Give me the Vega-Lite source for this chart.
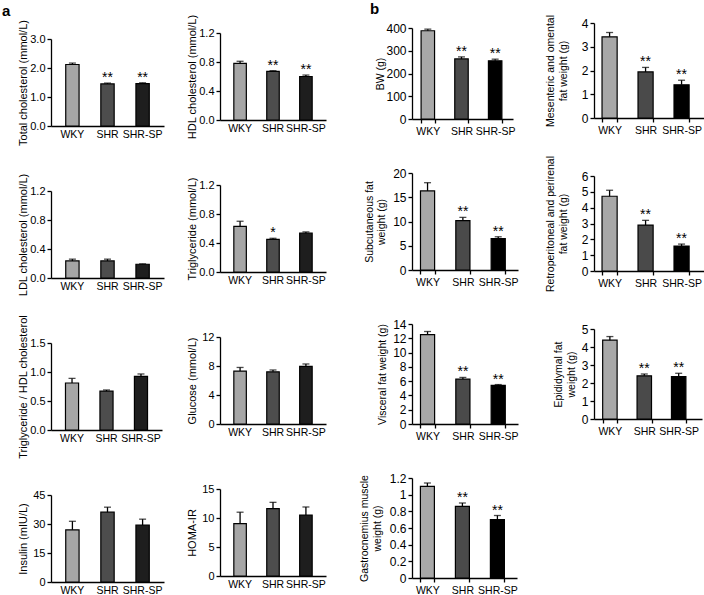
{
"$schema": "https://vega.github.io/schema/vega-lite/v6.json",
"padding": {"left": 2, "top": 2, "right": 0, "bottom": 0},
"data": {"values": [
{"p":"tc","g":"WKY","v":2.12,"hi":2.17,"s":""},{"p":"tc","g":"SHR","v":1.45,"hi":1.48,"s":"**"},{"p":"tc","g":"SHR-SP","v":1.46,"hi":1.49,"s":"**"},
{"p":"hdl","g":"WKY","v":0.78,"hi":0.81,"s":""},{"p":"hdl","g":"SHR","v":0.67,"hi":0.68,"s":"**"},{"p":"hdl","g":"SHR-SP","v":0.60,"hi":0.62,"s":"**"},
{"p":"ldl","g":"WKY","v":0.235,"hi":0.26,"s":""},{"p":"ldl","g":"SHR","v":0.235,"hi":0.26,"s":""},{"p":"ldl","g":"SHR-SP","v":0.19,"hi":0.195,"s":""},
{"p":"tg","g":"WKY","v":0.63,"hi":0.70,"s":""},{"p":"tg","g":"SHR","v":0.45,"hi":0.465,"s":"*"},{"p":"tg","g":"SHR-SP","v":0.535,"hi":0.553,"s":""},
{"p":"tgh","g":"WKY","v":0.81,"hi":0.89,"s":""},{"p":"tgh","g":"SHR","v":0.67,"hi":0.69,"s":""},{"p":"tgh","g":"SHR-SP","v":0.925,"hi":0.966,"s":""},
{"p":"glu","g":"WKY","v":7.3,"hi":7.8,"s":""},{"p":"glu","g":"SHR","v":7.2,"hi":7.45,"s":""},{"p":"glu","g":"SHR-SP","v":7.95,"hi":8.28,"s":""},
{"p":"ins","g":"WKY","v":27,"hi":31.4,"s":""},{"p":"ins","g":"SHR","v":36.1,"hi":38.7,"s":""},{"p":"ins","g":"SHR-SP","v":29.4,"hi":32.5,"s":""},
{"p":"homa","g":"WKY","v":9.04,"hi":11.0,"s":""},{"p":"homa","g":"SHR","v":11.6,"hi":12.7,"s":""},{"p":"homa","g":"SHR-SP","v":10.5,"hi":11.9,"s":""},
{"p":"bw","g":"WKY","v":388,"hi":395,"s":""},{"p":"bw","g":"SHR","v":264,"hi":273,"s":"**"},{"p":"bw","g":"SHR-SP","v":256,"hi":263,"s":"**"},
{"p":"mes","g":"WKY","v":3.42,"hi":3.6,"s":""},{"p":"mes","g":"SHR","v":1.94,"hi":2.13,"s":"**"},{"p":"mes","g":"SHR-SP","v":1.4,"hi":1.59,"s":"**"},
{"p":"sub","g":"WKY","v":16.3,"hi":18.0,"s":""},{"p":"sub","g":"SHR","v":10.2,"hi":10.85,"s":"**"},{"p":"sub","g":"SHR-SP","v":6.45,"hi":6.85,"s":"**"},
{"p":"ret","g":"WKY","v":4.72,"hi":5.1,"s":""},{"p":"ret","g":"SHR","v":2.9,"hi":3.2,"s":"**"},{"p":"ret","g":"SHR-SP","v":1.58,"hi":1.7,"s":"**"},
{"p":"vis","g":"WKY","v":12.5,"hi":12.95,"s":""},{"p":"vis","g":"SHR","v":6.28,"hi":6.52,"s":"**"},{"p":"vis","g":"SHR-SP","v":5.4,"hi":5.52,"s":"**"},
{"p":"epi","g":"WKY","v":4.38,"hi":4.58,"s":""},{"p":"epi","g":"SHR","v":2.4,"hi":2.5,"s":"**"},{"p":"epi","g":"SHR-SP","v":2.36,"hi":2.54,"s":"**"},
{"p":"gas","g":"WKY","v":1.1,"hi":1.14,"s":""},{"p":"gas","g":"SHR","v":0.86,"hi":0.9,"s":"**"},{"p":"gas","g":"SHR-SP","v":0.7,"hi":0.75,"s":"**"}
]},
"config": {
"font": "Liberation Sans",
"view": {"stroke": null},
"axis": {"grid": false, "domainColor": "#000", "domainWidth": 1.3, "tickColor": "#000", "tickWidth": 1.3, "tickSize": 4, "labelColor": "#000", "titleColor": "#000", "labelFontSize": 11, "titleFontSize": 11, "titleFontWeight": "normal", "labelFont": "Liberation Sans", "titleFont": "Liberation Sans", "labelOverlap": false},
"axisX": {"ticks": false, "labelPadding": 3, "labelAngle": 0, "labelFontSize": 10.5},
"axisY": {"labelPadding": 2, "titlePadding": 1, "labelOverlap": false, "tickCount": 20},
"tick": {"color": "#000"},
"rule": {"color": "#000"},
"title": {"font": "Liberation Sans", "fontWeight": "bold", "fontSize": 15, "anchor": "start", "color": "#000", "frame": "group"}
},
"spacing": 33,
"hconcat": [
{"spacing": 22, "hconcat": [
 {"spacing": 0, "vconcat": [
  {"data": {"values": []}, "mark": {"type": "point", "opacity": 0}, "width": 1, "height": 1.5, "title": {"text": "a", "dx": -49, "offset": -7}},
  {"bounds": "flush", "spacing": 65, "vconcat": [
   {"width": 113, "height": 87,
    "transform": [{"filter": "datum.p==='tc'"}],
    "encoding": {"x": {"field": "g", "type": "nominal", "sort": ["WKY","SHR","SHR-SP"], "title": null, "scale": {"paddingInner": 0.62, "paddingOuter": 0.42}}},
    "layer": [
     {"mark": {"type": "bar", "stroke": "#000", "strokeWidth": 1.2}, "encoding": {"y": {"field": "v", "type": "quantitative", "title": "Total cholesterol (mmol/L)", "scale": {"domain": [0,3], "nice": false}, "axis": {"values": [0,1,2,3], "format": ".1f", "tickCount": 20}}, "fill": {"condition": [{"test": "datum.g==='WKY'", "value": "#a6a6a6"}, {"test": "datum.g==='SHR'", "value": "#4d4d4d"}], "value": "#1e1e1e"}}},
     {"mark": {"type": "rule", "strokeWidth": 1.3}, "encoding": {"y": {"field": "v", "type": "quantitative", "title": "Total cholesterol (mmol/L)"}, "y2": {"field": "hi"}}},
     {"mark": {"type": "tick", "thickness": 1.3, "size": 7}, "encoding": {"y": {"field": "hi", "type": "quantitative", "title": "Total cholesterol (mmol/L)"}}},
     {"mark": {"type": "text", "fontSize": 14, "baseline": "alphabetic", "dy": -1, "color": "#000"}, "encoding": {"y": {"field": "hi", "type": "quantitative", "title": "Total cholesterol (mmol/L)"}, "text": {"field": "s"}}}
    ]},
   {"width": 113, "height": 87,
    "transform": [{"filter": "datum.p==='ldl'"}],
    "encoding": {"x": {"field": "g", "type": "nominal", "sort": ["WKY","SHR","SHR-SP"], "title": null, "scale": {"paddingInner": 0.62, "paddingOuter": 0.42}}},
    "layer": [
     {"mark": {"type": "bar", "stroke": "#000", "strokeWidth": 1.2}, "encoding": {"y": {"field": "v", "type": "quantitative", "title": "LDL cholesterol (mmol/L)", "scale": {"domain": [0,1.2], "nice": false}, "axis": {"values": [0,0.4,0.8,1.2], "format": ".1f", "tickCount": 20}}, "fill": {"condition": [{"test": "datum.g==='WKY'", "value": "#a6a6a6"}, {"test": "datum.g==='SHR'", "value": "#4d4d4d"}], "value": "#1e1e1e"}}},
     {"mark": {"type": "rule", "strokeWidth": 1.3}, "encoding": {"y": {"field": "v", "type": "quantitative", "title": "LDL cholesterol (mmol/L)"}, "y2": {"field": "hi"}}},
     {"mark": {"type": "tick", "thickness": 1.3, "size": 7}, "encoding": {"y": {"field": "hi", "type": "quantitative", "title": "LDL cholesterol (mmol/L)"}}},
     {"mark": {"type": "text", "fontSize": 14, "baseline": "alphabetic", "dy": -1, "color": "#000"}, "encoding": {"y": {"field": "hi", "type": "quantitative", "title": "LDL cholesterol (mmol/L)"}, "text": {"field": "s"}}}
    ]},
   {"width": 111, "height": 87,
    "transform": [{"filter": "datum.p==='tgh'"}],
    "encoding": {"x": {"field": "g", "type": "nominal", "sort": ["WKY","SHR","SHR-SP"], "title": null, "scale": {"paddingInner": 0.62, "paddingOuter": 0.42}}},
    "layer": [
     {"mark": {"type": "bar", "stroke": "#000", "strokeWidth": 1.2}, "encoding": {"y": {"field": "v", "type": "quantitative", "title": "Triglyceride / HDL cholesterol", "scale": {"domain": [0,1.5], "nice": false}, "axis": {"values": [0,0.5,1,1.5], "format": ".1f", "tickCount": 20}}, "fill": {"condition": [{"test": "datum.g==='WKY'", "value": "#a6a6a6"}, {"test": "datum.g==='SHR'", "value": "#4d4d4d"}], "value": "#1e1e1e"}}},
     {"mark": {"type": "rule", "strokeWidth": 1.3}, "encoding": {"y": {"field": "v", "type": "quantitative", "title": "Triglyceride / HDL cholesterol"}, "y2": {"field": "hi"}}},
     {"mark": {"type": "tick", "thickness": 1.3, "size": 7}, "encoding": {"y": {"field": "hi", "type": "quantitative", "title": "Triglyceride / HDL cholesterol"}}},
     {"mark": {"type": "text", "fontSize": 14, "baseline": "alphabetic", "dy": -1, "color": "#000"}, "encoding": {"y": {"field": "hi", "type": "quantitative", "title": "Triglyceride / HDL cholesterol"}, "text": {"field": "s"}}}
    ]},
   {"width": 113, "height": 87,
    "transform": [{"filter": "datum.p==='ins'"}],
    "encoding": {"x": {"field": "g", "type": "nominal", "sort": ["WKY","SHR","SHR-SP"], "title": null, "scale": {"paddingInner": 0.62, "paddingOuter": 0.42}}},
    "layer": [
     {"mark": {"type": "bar", "stroke": "#000", "strokeWidth": 1.2}, "encoding": {"y": {"field": "v", "type": "quantitative", "title": "Insulin (mIU/L)", "scale": {"domain": [0,45], "nice": false}, "axis": {"values": [0,15,30,45], "format": "d", "titlePadding": 4, "tickCount": 20}}, "fill": {"condition": [{"test": "datum.g==='WKY'", "value": "#a6a6a6"}, {"test": "datum.g==='SHR'", "value": "#4d4d4d"}], "value": "#1e1e1e"}}},
     {"mark": {"type": "rule", "strokeWidth": 1.3}, "encoding": {"y": {"field": "v", "type": "quantitative", "title": "Insulin (mIU/L)"}, "y2": {"field": "hi"}}},
     {"mark": {"type": "tick", "thickness": 1.3, "size": 7}, "encoding": {"y": {"field": "hi", "type": "quantitative", "title": "Insulin (mIU/L)"}}},
     {"mark": {"type": "text", "fontSize": 14, "baseline": "alphabetic", "dy": -1, "color": "#000"}, "encoding": {"y": {"field": "hi", "type": "quantitative", "title": "Insulin (mIU/L)"}, "text": {"field": "s"}}}
    ]}
  ]}
 ]},
 {"spacing": 0, "vconcat": [
  {"data": {"values": []}, "mark": {"type": "point", "opacity": 0}, "width": 1, "height": 1.5},
  {"bounds": "flush", "spacing": 65, "vconcat": [
   {"width": 106, "height": 87,
    "transform": [{"filter": "datum.p==='hdl'"}],
    "encoding": {"x": {"field": "g", "type": "nominal", "sort": ["WKY","SHR","SHR-SP"], "title": null, "scale": {"paddingInner": 0.62, "paddingOuter": 0.42}}},
    "layer": [
     {"mark": {"type": "bar", "stroke": "#000", "strokeWidth": 1.2}, "encoding": {"y": {"field": "v", "type": "quantitative", "title": "HDL cholesterol (mmol/L)", "scale": {"domain": [0,1.2], "nice": false}, "axis": {"values": [0,0.4,0.8,1.2], "format": ".1f", "tickCount": 20}}, "fill": {"condition": [{"test": "datum.g==='WKY'", "value": "#a6a6a6"}, {"test": "datum.g==='SHR'", "value": "#4d4d4d"}], "value": "#1e1e1e"}}},
     {"mark": {"type": "rule", "strokeWidth": 1.3}, "encoding": {"y": {"field": "v", "type": "quantitative", "title": "HDL cholesterol (mmol/L)"}, "y2": {"field": "hi"}}},
     {"mark": {"type": "tick", "thickness": 1.3, "size": 7}, "encoding": {"y": {"field": "hi", "type": "quantitative", "title": "HDL cholesterol (mmol/L)"}}},
     {"mark": {"type": "text", "fontSize": 14, "baseline": "alphabetic", "dy": -1, "color": "#000"}, "encoding": {"y": {"field": "hi", "type": "quantitative", "title": "HDL cholesterol (mmol/L)"}, "text": {"field": "s"}}}
    ]},
   {"width": 106, "height": 87,
    "transform": [{"filter": "datum.p==='tg'"}],
    "encoding": {"x": {"field": "g", "type": "nominal", "sort": ["WKY","SHR","SHR-SP"], "title": null, "scale": {"paddingInner": 0.62, "paddingOuter": 0.42}}},
    "layer": [
     {"mark": {"type": "bar", "stroke": "#000", "strokeWidth": 1.2}, "encoding": {"y": {"field": "v", "type": "quantitative", "title": "Triglyceride (mmol/L)", "scale": {"domain": [0,1.2], "nice": false}, "axis": {"values": [0,0.4,0.8,1.2], "format": ".1f", "tickCount": 20}}, "fill": {"condition": [{"test": "datum.g==='WKY'", "value": "#a6a6a6"}, {"test": "datum.g==='SHR'", "value": "#4d4d4d"}], "value": "#1e1e1e"}}},
     {"mark": {"type": "rule", "strokeWidth": 1.3}, "encoding": {"y": {"field": "v", "type": "quantitative", "title": "Triglyceride (mmol/L)"}, "y2": {"field": "hi"}}},
     {"mark": {"type": "tick", "thickness": 1.3, "size": 7}, "encoding": {"y": {"field": "hi", "type": "quantitative", "title": "Triglyceride (mmol/L)"}}},
     {"mark": {"type": "text", "fontSize": 14, "baseline": "alphabetic", "dy": -1, "color": "#000"}, "encoding": {"y": {"field": "hi", "type": "quantitative", "title": "Triglyceride (mmol/L)"}, "text": {"field": "s"}}}
    ]},
   {"width": 106, "height": 87,
    "transform": [{"filter": "datum.p==='glu'"}],
    "encoding": {"x": {"field": "g", "type": "nominal", "sort": ["WKY","SHR","SHR-SP"], "title": null, "scale": {"paddingInner": 0.62, "paddingOuter": 0.42}}},
    "layer": [
     {"mark": {"type": "bar", "stroke": "#000", "strokeWidth": 1.2}, "encoding": {"y": {"field": "v", "type": "quantitative", "title": "Glucose (mmol/L)", "scale": {"domain": [0,12], "nice": false}, "axis": {"values": [0,4,8,12], "format": "d", "titlePadding": 4, "tickCount": 20}}, "fill": {"condition": [{"test": "datum.g==='WKY'", "value": "#a6a6a6"}, {"test": "datum.g==='SHR'", "value": "#4d4d4d"}], "value": "#1e1e1e"}}},
     {"mark": {"type": "rule", "strokeWidth": 1.3}, "encoding": {"y": {"field": "v", "type": "quantitative", "title": "Glucose (mmol/L)"}, "y2": {"field": "hi"}}},
     {"mark": {"type": "tick", "thickness": 1.3, "size": 7}, "encoding": {"y": {"field": "hi", "type": "quantitative", "title": "Glucose (mmol/L)"}}},
     {"mark": {"type": "text", "fontSize": 14, "baseline": "alphabetic", "dy": -1, "color": "#000"}, "encoding": {"y": {"field": "hi", "type": "quantitative", "title": "Glucose (mmol/L)"}, "text": {"field": "s"}}}
    ]},
   {"width": 106, "height": 87,
    "transform": [{"filter": "datum.p==='homa'"}],
    "encoding": {"x": {"field": "g", "type": "nominal", "sort": ["WKY","SHR","SHR-SP"], "title": null, "scale": {"paddingInner": 0.62, "paddingOuter": 0.42}}},
    "layer": [
     {"mark": {"type": "bar", "stroke": "#000", "strokeWidth": 1.2}, "encoding": {"y": {"field": "v", "type": "quantitative", "title": "HOMA-IR", "scale": {"domain": [0,15], "nice": false}, "axis": {"values": [0,5,10,15], "format": "d", "titlePadding": 4, "tickCount": 20}}, "fill": {"condition": [{"test": "datum.g==='WKY'", "value": "#a6a6a6"}, {"test": "datum.g==='SHR'", "value": "#4d4d4d"}], "value": "#1e1e1e"}}},
     {"mark": {"type": "rule", "strokeWidth": 1.3}, "encoding": {"y": {"field": "v", "type": "quantitative", "title": "HOMA-IR"}, "y2": {"field": "hi"}}},
     {"mark": {"type": "tick", "thickness": 1.3, "size": 7}, "encoding": {"y": {"field": "hi", "type": "quantitative", "title": "HOMA-IR"}}},
     {"mark": {"type": "text", "fontSize": 14, "baseline": "alphabetic", "dy": -1, "color": "#000"}, "encoding": {"y": {"field": "hi", "type": "quantitative", "title": "HOMA-IR"}, "text": {"field": "s"}}}
    ]}
  ]}
 ]}
]},
{"spacing": 26, "hconcat": [
 {"spacing": 0, "vconcat": [
  {"data": {"values": []}, "mark": {"type": "point", "opacity": 0}, "width": 1, "height": 4, "title": {"text": "b", "dx": -42, "offset": -5}},
  {"bounds": "flush", "spacing": 54, "vconcat": [
   {"width": 101, "height": 91,
    "transform": [{"filter": "datum.p==='bw'"}],
    "encoding": {"x": {"field": "g", "type": "nominal", "sort": ["WKY","SHR","SHR-SP"], "title": null, "scale": {"paddingInner": 0.6, "paddingOuter": 0.3, "align": 0.45}, "axis": {"ticks": true, "tickBand": "extent"}}},
    "layer": [
     {"mark": {"type": "bar", "stroke": "#000", "strokeWidth": 1.2}, "encoding": {"y": {"field": "v", "type": "quantitative", "title": "BW (g)", "scale": {"domain": [0,400], "nice": false}, "axis": {"values": [0,100,200,300,400], "format": "d", "labelFontSize": 12, "titleFontSize": 10.5, "titlePadding": 0, "tickCount": 20}}, "fill": {"condition": [{"test": "datum.g==='WKY'", "value": "#a8a8a8"}, {"test": "datum.g==='SHR'", "value": "#4a4a4a"}], "value": "#000000"}}},
     {"mark": {"type": "rule", "strokeWidth": 1.3}, "encoding": {"y": {"field": "v", "type": "quantitative", "title": "BW (g)"}, "y2": {"field": "hi"}}},
     {"mark": {"type": "tick", "thickness": 1.3, "size": 7}, "encoding": {"y": {"field": "hi", "type": "quantitative", "title": "BW (g)"}}},
     {"mark": {"type": "text", "fontSize": 14, "baseline": "alphabetic", "dy": -1, "color": "#000"}, "encoding": {"y": {"field": "hi", "type": "quantitative", "title": "BW (g)"}, "text": {"field": "s"}}}
    ]},
   {"width": 106, "height": 97,
    "transform": [{"filter": "datum.p==='sub'"}],
    "encoding": {"x": {"field": "g", "type": "nominal", "sort": ["WKY","SHR","SHR-SP"], "title": null, "scale": {"paddingInner": 0.6, "paddingOuter": 0.3, "align": 0.4}, "axis": {"ticks": true, "tickBand": "extent"}}},
    "layer": [
     {"mark": {"type": "bar", "stroke": "#000", "strokeWidth": 1.2}, "encoding": {"y": {"field": "v", "type": "quantitative", "title": ["Subcutaneous fat", "weight (g)"], "scale": {"domain": [0,20], "nice": false}, "axis": {"values": [0,5,10,15,20], "format": "d", "labelFontSize": 12, "titleFontSize": 10.5, "titlePadding": 6, "tickCount": 20}}, "fill": {"condition": [{"test": "datum.g==='WKY'", "value": "#a8a8a8"}, {"test": "datum.g==='SHR'", "value": "#4a4a4a"}], "value": "#000000"}}},
     {"mark": {"type": "rule", "strokeWidth": 1.3}, "encoding": {"y": {"field": "v", "type": "quantitative", "title": ["Subcutaneous fat", "weight (g)"]}, "y2": {"field": "hi"}}},
     {"mark": {"type": "tick", "thickness": 1.3, "size": 7}, "encoding": {"y": {"field": "hi", "type": "quantitative", "title": ["Subcutaneous fat", "weight (g)"]}}},
     {"mark": {"type": "text", "fontSize": 14, "baseline": "alphabetic", "dy": -1, "color": "#000"}, "encoding": {"y": {"field": "hi", "type": "quantitative", "title": ["Subcutaneous fat", "weight (g)"]}, "text": {"field": "s"}}}
    ]},
   {"width": 106, "height": 100,
    "transform": [{"filter": "datum.p==='vis'"}],
    "encoding": {"x": {"field": "g", "type": "nominal", "sort": ["WKY","SHR","SHR-SP"], "title": null, "scale": {"paddingInner": 0.6, "paddingOuter": 0.3, "align": 0.4}, "axis": {"ticks": true, "tickBand": "extent"}}},
    "layer": [
     {"mark": {"type": "bar", "stroke": "#000", "strokeWidth": 1.2}, "encoding": {"y": {"field": "v", "type": "quantitative", "title": "Visceral fat weight (g)", "scale": {"domain": [0,14], "nice": false}, "axis": {"values": [0,2,4,6,8,10,12,14], "format": "d", "labelFontSize": 12, "titleFontSize": 10.5, "titlePadding": 5, "tickCount": 20}}, "fill": {"condition": [{"test": "datum.g==='WKY'", "value": "#a8a8a8"}, {"test": "datum.g==='SHR'", "value": "#4a4a4a"}], "value": "#000000"}}},
     {"mark": {"type": "rule", "strokeWidth": 1.3}, "encoding": {"y": {"field": "v", "type": "quantitative", "title": "Visceral fat weight (g)"}, "y2": {"field": "hi"}}},
     {"mark": {"type": "tick", "thickness": 1.3, "size": 7}, "encoding": {"y": {"field": "hi", "type": "quantitative", "title": "Visceral fat weight (g)"}}},
     {"mark": {"type": "text", "fontSize": 14, "baseline": "alphabetic", "dy": -1, "color": "#000"}, "encoding": {"y": {"field": "hi", "type": "quantitative", "title": "Visceral fat weight (g)"}, "text": {"field": "s"}}}
    ]},
   {"width": 105, "height": 100,
    "transform": [{"filter": "datum.p==='gas'"}],
    "encoding": {"x": {"field": "g", "type": "nominal", "sort": ["WKY","SHR","SHR-SP"], "title": null, "scale": {"paddingInner": 0.6, "paddingOuter": 0.3, "align": 0.4}, "axis": {"ticks": true, "tickBand": "extent"}}},
    "layer": [
     {"mark": {"type": "bar", "stroke": "#000", "strokeWidth": 1.2}, "encoding": {"y": {"field": "v", "type": "quantitative", "title": ["Gastrocnemius muscle", "weight (g)"], "scale": {"domain": [0,1.2], "nice": false}, "axis": {"values": [0,0.2,0.4,0.6,0.8,1,1.2], "format": "~g", "labelFontSize": 12, "titleFontSize": 10.5, "titlePadding": 7, "tickCount": 20}}, "fill": {"condition": [{"test": "datum.g==='WKY'", "value": "#a8a8a8"}, {"test": "datum.g==='SHR'", "value": "#4a4a4a"}], "value": "#000000"}}},
     {"mark": {"type": "rule", "strokeWidth": 1.3}, "encoding": {"y": {"field": "v", "type": "quantitative", "title": ["Gastrocnemius muscle", "weight (g)"]}, "y2": {"field": "hi"}}},
     {"mark": {"type": "tick", "thickness": 1.3, "size": 7}, "encoding": {"y": {"field": "hi", "type": "quantitative", "title": ["Gastrocnemius muscle", "weight (g)"]}}},
     {"mark": {"type": "text", "fontSize": 14, "baseline": "alphabetic", "dy": -1, "color": "#000"}, "encoding": {"y": {"field": "hi", "type": "quantitative", "title": ["Gastrocnemius muscle", "weight (g)"]}, "text": {"field": "s"}}}
    ]}
  ]}
 ]},
 {"spacing": 0, "vconcat": [
  {"data": {"values": []}, "mark": {"type": "point", "opacity": 0}, "width": 1, "height": 1.5},
  {"bounds": "flush", "spacing": 58, "vconcat": [
   {"width": 113, "height": 95,
    "transform": [{"filter": "datum.p==='mes'"}],
    "encoding": {"x": {"field": "g", "type": "nominal", "sort": ["WKY","SHR","SHR-SP"], "title": null, "scale": {"paddingInner": 0.58, "paddingOuter": 0.36, "align": 0.31}, "axis": {"ticks": true, "tickBand": "extent"}}},
    "layer": [
     {"mark": {"type": "bar", "stroke": "#000", "strokeWidth": 1.2}, "encoding": {"y": {"field": "v", "type": "quantitative", "title": ["Mesenteric and omental", "fat weight (g)"], "scale": {"domain": [0,4], "nice": false}, "axis": {"values": [0,1,2,3,4], "format": "d", "labelFontSize": 12, "titleFontSize": 10.5, "titlePadding": 13, "tickCount": 20}}, "fill": {"condition": [{"test": "datum.g==='WKY'", "value": "#a8a8a8"}, {"test": "datum.g==='SHR'", "value": "#4a4a4a"}], "value": "#000000"}}},
     {"mark": {"type": "rule", "strokeWidth": 1.3}, "encoding": {"y": {"field": "v", "type": "quantitative", "title": ["Mesenteric and omental", "fat weight (g)"]}, "y2": {"field": "hi"}}},
     {"mark": {"type": "tick", "thickness": 1.3, "size": 7}, "encoding": {"y": {"field": "hi", "type": "quantitative", "title": ["Mesenteric and omental", "fat weight (g)"]}}},
     {"mark": {"type": "text", "fontSize": 14, "baseline": "alphabetic", "dy": -1, "color": "#000"}, "encoding": {"y": {"field": "hi", "type": "quantitative", "title": ["Mesenteric and omental", "fat weight (g)"]}, "text": {"field": "s"}}}
    ]},
   {"width": 113, "height": 95,
    "transform": [{"filter": "datum.p==='ret'"}],
    "encoding": {"x": {"field": "g", "type": "nominal", "sort": ["WKY","SHR","SHR-SP"], "title": null, "scale": {"paddingInner": 0.58, "paddingOuter": 0.36, "align": 0.31}, "axis": {"ticks": true, "tickBand": "extent"}}},
    "layer": [
     {"mark": {"type": "bar", "stroke": "#000", "strokeWidth": 1.2}, "encoding": {"y": {"field": "v", "type": "quantitative", "title": ["Retroperitoneal and perirenal", "fat weight (g)"], "scale": {"domain": [0,6], "nice": false}, "axis": {"values": [0,1,2,3,4,5,6], "format": "d", "labelFontSize": 12, "titleFontSize": 10.5, "titlePadding": 13, "tickCount": 20}}, "fill": {"condition": [{"test": "datum.g==='WKY'", "value": "#a8a8a8"}, {"test": "datum.g==='SHR'", "value": "#4a4a4a"}], "value": "#000000"}}},
     {"mark": {"type": "rule", "strokeWidth": 1.3}, "encoding": {"y": {"field": "v", "type": "quantitative", "title": ["Retroperitoneal and perirenal", "fat weight (g)"]}, "y2": {"field": "hi"}}},
     {"mark": {"type": "tick", "thickness": 1.3, "size": 7}, "encoding": {"y": {"field": "hi", "type": "quantitative", "title": ["Retroperitoneal and perirenal", "fat weight (g)"]}}},
     {"mark": {"type": "text", "fontSize": 14, "baseline": "alphabetic", "dy": -1, "color": "#000"}, "encoding": {"y": {"field": "hi", "type": "quantitative", "title": ["Retroperitoneal and perirenal", "fat weight (g)"]}, "text": {"field": "s"}}}
    ]},
   {"width": 108, "height": 90,
    "transform": [{"filter": "datum.p==='epi'"}],
    "encoding": {"x": {"field": "g", "type": "nominal", "sort": ["WKY","SHR","SHR-SP"], "title": null, "scale": {"paddingInner": 0.58, "paddingOuter": 0.36, "align": 0.35}, "axis": {"ticks": true, "tickBand": "extent"}}},
    "layer": [
     {"mark": {"type": "bar", "stroke": "#000", "strokeWidth": 1.2}, "encoding": {"y": {"field": "v", "type": "quantitative", "title": ["Epididymal fat", "weight (g)"], "scale": {"domain": [0,5], "nice": false}, "axis": {"values": [0,1,2,3,4,5], "format": "d", "labelFontSize": 12, "titleFontSize": 10.5, "titlePadding": 5, "tickCount": 20}}, "fill": {"condition": [{"test": "datum.g==='WKY'", "value": "#a8a8a8"}, {"test": "datum.g==='SHR'", "value": "#4a4a4a"}], "value": "#000000"}}},
     {"mark": {"type": "rule", "strokeWidth": 1.3}, "encoding": {"y": {"field": "v", "type": "quantitative", "title": ["Epididymal fat", "weight (g)"]}, "y2": {"field": "hi"}}},
     {"mark": {"type": "tick", "thickness": 1.3, "size": 7}, "encoding": {"y": {"field": "hi", "type": "quantitative", "title": ["Epididymal fat", "weight (g)"]}}},
     {"mark": {"type": "text", "fontSize": 14, "baseline": "alphabetic", "dy": -1, "color": "#000"}, "encoding": {"y": {"field": "hi", "type": "quantitative", "title": ["Epididymal fat", "weight (g)"]}, "text": {"field": "s"}}}
    ]}
  ]}
 ]}
]}
]
}
